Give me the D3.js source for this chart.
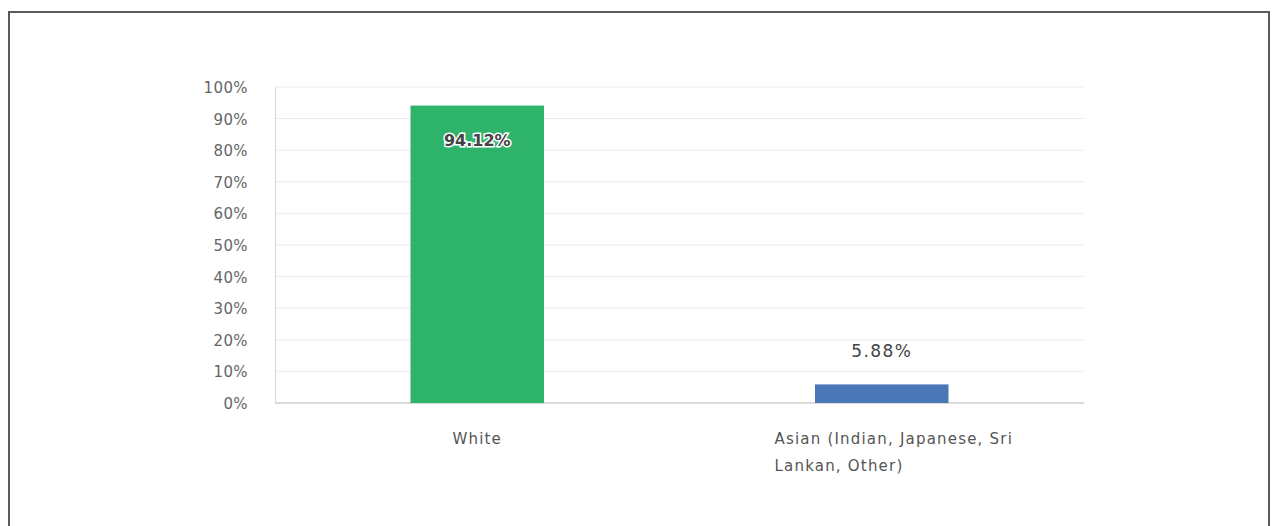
<!DOCTYPE html>
<html>
<head>
<meta charset="utf-8">
<script src="https://cdn.jsdelivr.net/npm/d3@7"></script>
<style>
  html, body { margin: 0; padding: 0; background: #fff; }
  svg { display: block; font-family: "DejaVu Sans", sans-serif; }
</style>
</head>
<body>
<svg id="chart" width="1276" height="526"></svg>
<script>
// Survey response shares by ethnicity
const categories = ["White", "Asian (Indian, Japanese, Sri Lankan, Other)"];
const values = [94.12, 5.88];
const barColors = ["#2db36a", "#4a78b6"];
const yTicks = [0, 10, 20, 30, 40, 50, 60, 70, 80, 90, 100];

const svg = d3.select("#chart");

// outer frame
svg.append("rect")
  .attr("x", 9).attr("y", 12)
  .attr("width", 1260).attr("height", 530)
  .attr("fill", "none")
  .attr("stroke", "#5a5a5a")
  .attr("stroke-width", 2);

const margin = { left: 275, right: 1084, top: 87, bottom: 403 };

const x = d3.scaleBand()
  .domain(categories)
  .range([margin.left, margin.right])
  .padding(0);

const y = d3.scaleLinear()
  .domain([0, 100])
  .range([margin.bottom, margin.top]);

const barWidth = x.bandwidth() * 0.33;

// gridlines
svg.append("g")
  .selectAll("line")
  .data(yTicks.filter(d => d > 0))
  .join("line")
  .attr("x1", margin.left).attr("x2", margin.right)
  .attr("y1", d => y(d)).attr("y2", d => y(d))
  .attr("stroke", "#ececec")
  .attr("stroke-width", 1);

// y axis
const yAxis = svg.append("g")
  .attr("transform", `translate(${margin.left},0)`)
  .call(d3.axisLeft(y).tickValues(yTicks).tickFormat(d => d + "%").tickSize(0).tickPadding(27));
yAxis.select(".domain").attr("stroke", "#d6d6d6");
yAxis.selectAll("text")
  .attr("fill", "#666")
  .attr("dy", "0.36em")
  .style("font-size", "15px")
  .style("letter-spacing", "0.4px")
  .style("font-family", "\"DejaVu Sans\", sans-serif");

// x baseline
svg.append("line")
  .attr("x1", margin.left).attr("x2", margin.right)
  .attr("y1", y(0)).attr("y2", y(0))
  .attr("stroke", "#cfcfcf")
  .attr("stroke-width", 1.5);

// bars
svg.append("g")
  .selectAll("rect")
  .data(categories)
  .join("rect")
  .attr("x", d => x(d) + x.bandwidth() / 2 - barWidth / 2)
  .attr("width", barWidth)
  .attr("y", (d, i) => y(values[i]))
  .attr("height", (d, i) => y(0) - y(values[i]))
  .attr("fill", (d, i) => barColors[i]);

// value labels: inside tall bars, above short ones
const labels = svg.append("g");
categories.forEach((c, i) => {
  const inside = values[i] > 50;
  const cx = x(c) + x.bandwidth() / 2;
  const ly = inside ? y(values[i]) + 40 : y(values[i]) - 27;
  const t = labels.append("text")
    .attr("x", cx).attr("y", ly)
    .attr("text-anchor", "middle")
    .style("font-size", inside ? "16px" : "17px")
    .attr("fill", "#444")
    .text(values[i].toFixed(2) + "%");
  if (inside) {
    t.attr("stroke", "#fff").attr("stroke-width", 3).attr("paint-order", "stroke")
      .style("font-weight", "bold");
  } else {
    t.style("letter-spacing", "1.4px");
  }
});

// category labels, wrapped and left-aligned within a centred block
const maxChars = 28;
function wrap(s) {
  const words = s.split(" ");
  const lines = [];
  let cur = "";
  words.forEach(w => {
    const next = cur ? cur + " " + w : w;
    if (next.length > maxChars && cur) { lines.push(cur); cur = w; }
    else cur = next;
  });
  if (cur) lines.push(cur);
  return lines;
}

categories.forEach(c => {
  const lines = wrap(c);
  const cx = x(c) + x.bandwidth() / 2;
  const t = svg.append("text")
    .attr("y", 444)
    .style("font-size", "15px")
    .style("letter-spacing", "1.2px")
    .attr("fill", "#555");
  lines.forEach((ln, j) => {
    t.append("tspan").attr("dy", j === 0 ? 0 : 27).text(ln);
  });
  const widths = [];
  t.selectAll("tspan").each(function () { widths.push(this.getComputedTextLength()); });
  const w = d3.max(widths);
  const x0 = lines.length > 1 ? cx - w / 2 + 12 : cx - w / 2;
  t.selectAll("tspan").attr("x", x0);
});
</script>
</body>
</html>
